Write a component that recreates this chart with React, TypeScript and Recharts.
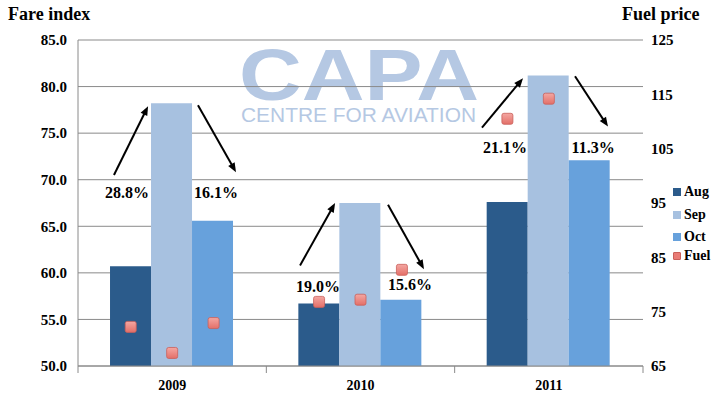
import React from 'react';
import {
  ComposedChart,
  Bar,
  Scatter,
  XAxis,
  YAxis,
  CartesianGrid,
  ReferenceLine,
  ReferenceDot,
} from 'recharts';

const years = ['2009', '2010', '2011'];
const augValues = [60.7, 56.7, 67.6];
const sepValues = [78.2, 67.5, 81.2];
const octValues = [65.6, 57.1, 72.1];
// fuel price per month (Aug, Sep, Oct) for each year; null = not shown
const fuelValues: (number | null)[][] = [
  [72.2, 67.4, 72.9],
  [76.8, 77.2, 82.7],
  [110.5, 114.2, null],
];
const leftTicks = [50, 55, 60, 65, 70, 75, 80, 85];
const rightTicks = [65, 75, 85, 95, 105, 115, 125];

// change labels, anchored in data space (x on 0..3 year axis, y on fare index)
const changeLabels = [
  { text: '28.8%', x: 0.26, y: 68.7 },
  { text: '16.1%', x: 0.733, y: 68.7 },
  { text: '19.0%', x: 1.274, y: 58.6 },
  { text: '15.6%', x: 1.763, y: 58.8 },
  { text: '21.1%', x: 2.267, y: 73.5 },
  { text: '11.3%', x: 2.735, y: 73.5 },
];
const changeArrows = [
  { x1: 0.191, y1: 70.5, x2: 0.372, y2: 77.9 },
  { x1: 0.637, y1: 78.0, x2: 0.839, y2: 70.8 },
  { x1: 1.179, y1: 60.8, x2: 1.365, y2: 67.5 },
  { x1: 1.646, y1: 67.3, x2: 1.837, y2: 60.4 },
  { x1: 2.145, y1: 75.6, x2: 2.363, y2: 80.9 },
  { x1: 2.639, y1: 81.1, x2: 2.814, y2: 75.7 },
];

const CATEGORY_GAP = 0.17;
const COLORS = { aug: '#2b5b8b', sep: '#a7c1e0', oct: '#67a1dc' };
const SERIF = '"Liberation Serif", "DejaVu Serif", serif';

const data = years.map((year, i) => ({
  year,
  aug: augValues[i],
  sep: sepValues[i],
  oct: octValues[i],
}));

// place each fuel marker on the centre of its month bar
const barShare = (1 - 2 * CATEGORY_GAP) / 3;
const fuelPoints = fuelValues.flatMap((row, i) =>
  row
    .map((fuel, k) => ({ x: i + CATEGORY_GAP + (k + 0.5) * barShare, fuel }))
    .filter((p) => p.fuel !== null)
);

function FuelMarker(props: any) {
  const { cx, cy } = props;
  if (cx == null || cy == null) return null;
  return (
    <g>
      <defs>
        <linearGradient id="fuelGrad" x1="0" y1="0" x2="0" y2="1">
          <stop offset="0%" stopColor="#f4a7a2" />
          <stop offset="100%" stopColor="#e36f68" />
        </linearGradient>
      </defs>
      <rect
        x={cx - 5.5}
        y={cy - 5.5}
        width={11}
        height={11}
        rx={2}
        fill="url(#fuelGrad)"
        stroke="#c9605a"
        strokeWidth={0.8}
      />
    </g>
  );
}

function Arrow(props: any) {
  const { x1, y1, x2, y2 } = props;
  const ang = Math.atan2(y2 - y1, x2 - x1);
  const len = 10;
  const spread = 0.38;
  const ax = x2 - len * Math.cos(ang - spread);
  const ay = y2 - len * Math.sin(ang - spread);
  const bx = x2 - len * Math.cos(ang + spread);
  const by = y2 - len * Math.sin(ang + spread);
  const ex = x2 - 6 * Math.cos(ang);
  const ey = y2 - 6 * Math.sin(ang);
  return (
    <g>
      <line x1={x1} y1={y1} x2={ex} y2={ey} stroke="#000" strokeWidth={2} />
      <polygon points={`${x2},${y2} ${ax},${ay} ${bx},${by}`} fill="#000" />
    </g>
  );
}

function YearTick(props: any) {
  const { x, y, payload } = props;
  const v = payload.value as number;
  if (Number.isInteger(v)) {
    return <line x1={x} y1={y - 8} x2={x} y2={y - 1} stroke="#8a8a8a" strokeWidth={1} />;
  }
  return (
    <text
      x={x}
      y={y + 16}
      textAnchor="middle"
      style={{ fontFamily: SERIF, fontWeight: 'bold', fontSize: 14 }}
      fill="#000"
    >
      {years[Math.floor(v)]}
    </text>
  );
}

const legendItems = [
  { label: 'Aug', color: COLORS.aug, top: 184 },
  { label: 'Sep', color: COLORS.sep, top: 207 },
  { label: 'Oct', color: COLORS.oct, top: 229 },
  { label: 'Fuel', color: '#e97c76', top: 248, border: '#c9605a' },
];

const tickStyle = { fontFamily: SERIF, fontWeight: 'bold', fontSize: 15, fill: '#000' };

export default function App() {
  return (
    <div style={{ position: 'absolute', left: 0, top: 0, width: 720, height: 396, background: '#fff' }}>
      <svg width={720} height={396} style={{ position: 'absolute', left: 0, top: 0 }}>
        <text
          x={239}
          y={100}
          textLength={240}
          lengthAdjust="spacingAndGlyphs"
          style={{ fontFamily: '"Liberation Sans", Arial, sans-serif', fontWeight: 'bold', fontSize: 72 }}
          fill="#b5c8e3"
        >
          CAPA
        </text>
        <text
          x={241}
          y={122}
          textLength={235}
          lengthAdjust="spacingAndGlyphs"
          style={{ fontFamily: '"Liberation Sans", Arial, sans-serif', fontSize: 20 }}
          fill="#b5c8e3"
        >
          CENTRE FOR AVIATION
        </text>
      </svg>
      <div style={{ position: 'absolute', left: 0, top: 0 }}>
        <ComposedChart
          width={720}
          height={396}
          data={data}
          margin={{ top: 40, right: 0, left: 0, bottom: 0 }}
          barCategoryGap={`${CATEGORY_GAP * 100}%`}
          barGap={0}
        >
          <CartesianGrid
            horizontal
            vertical={false}
            stroke="#8a8a8a"
            xAxisId="num"
            yAxisId="left"
          />
          <XAxis
            xAxisId="num"
            dataKey="x"
            type="number"
            domain={[0, 3]}
            ticks={[0, 0.5, 1, 1.5, 2, 2.5, 3]}
            interval={0}
            height={30}
            tickLine={false}
            tickSize={6}
            tickMargin={2}
            axisLine={{ stroke: '#8a8a8a' }}
            tick={<YearTick />}
          />
          <XAxis xAxisId="cat" dataKey="year" hide height={0} />
          <YAxis
            yAxisId="left"
            width={78}
            domain={[50, 85]}
            ticks={leftTicks}
            interval={0}
            tickLine={false}
            tickMargin={5}
            axisLine={{ stroke: '#8a8a8a' }}
            tickFormatter={(v: number) => v.toFixed(1)}
            tick={tickStyle}
          />
          <YAxis
            yAxisId="right"
            orientation="right"
            width={77}
            domain={[65, 125]}
            ticks={rightTicks}
            interval={0}
            tickLine={false}
            axisLine={false}
            tickMargin={2}
            tick={tickStyle}
          />
          <Bar xAxisId="cat" yAxisId="left" dataKey="aug" fill={COLORS.aug} isAnimationActive={false} />
          <Bar xAxisId="cat" yAxisId="left" dataKey="sep" fill={COLORS.sep} isAnimationActive={false} />
          <Bar xAxisId="cat" yAxisId="left" dataKey="oct" fill={COLORS.oct} isAnimationActive={false} />
          <Scatter
            xAxisId="num"
            yAxisId="right"
            data={fuelPoints}
            dataKey="fuel"
            shape={<FuelMarker />}
            isAnimationActive={false}
          />
          {changeArrows.map((a, i) => (
            <ReferenceLine
              key={`arrow-${i}`}
              xAxisId="num"
              yAxisId="left"
              segment={[
                { x: a.x1, y: a.y1 },
                { x: a.x2, y: a.y2 },
              ]}
              ifOverflow="visible"
              shape={(p: any) => <Arrow {...p} />}
            />
          ))}
          {changeLabels.map((l, i) => (
            <ReferenceDot
              key={`label-${i}`}
              xAxisId="num"
              yAxisId="left"
              x={l.x}
              y={l.y}
              r={0}
              ifOverflow="visible"
              shape={(p: any) => (
                <text
                  x={p.cx}
                  y={p.cy + 6}
                  textAnchor="middle"
                  style={{ fontFamily: SERIF, fontWeight: 'bold', fontSize: 16 }}
                  fill="#000"
                >
                  {l.text}
                </text>
              )}
            />
          ))}
        </ComposedChart>
      </div>
      <div
        style={{
          position: 'absolute',
          left: 8,
          top: 4,
          fontFamily: SERIF,
          fontWeight: 'bold',
          fontSize: 18,
        }}
      >
        Fare index
      </div>
      <div
        style={{
          position: 'absolute',
          left: 622,
          top: 4,
          fontFamily: SERIF,
          fontWeight: 'bold',
          fontSize: 18,
        }}
      >
        Fuel price
      </div>
      {legendItems.map((item) => (
        <div
          key={item.label}
          style={{
            position: 'absolute',
            left: 673,
            top: item.top,
            display: 'flex',
            alignItems: 'center',
            fontFamily: SERIF,
            fontWeight: 'bold',
            fontSize: 14,
          }}
        >
          <span
            style={{
              display: 'inline-block',
              width: 8,
              height: 8,
              marginRight: 3,
              background: item.color,
              border: item.border ? `1px solid ${item.border}` : 'none',
              borderRadius: item.border ? 1 : 0,
              boxSizing: 'border-box',
            }}
          />
          {item.label}
        </div>
      ))}
    </div>
  );
}
